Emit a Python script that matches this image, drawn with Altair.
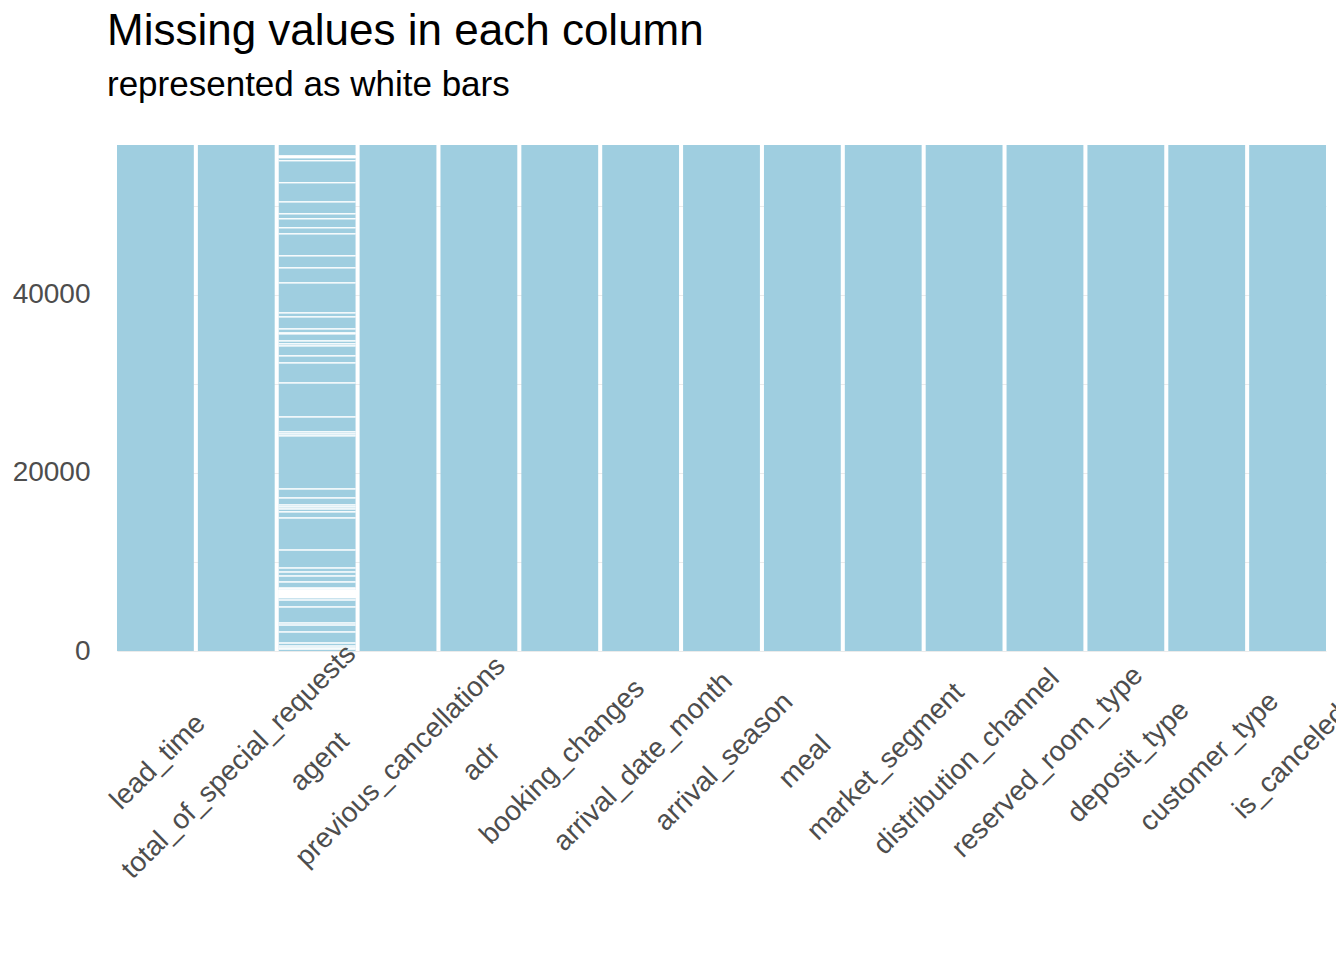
import altair as alt
import pandas as pd

columns = ["lead_time", "total_of_special_requests", "agent", "previous_cancellations", "adr",
           "booking_changes", "arrival_date_month", "arrival_season", "meal", "market_segment",
           "distribution_channel", "reserved_room_type", "deposit_type", "customer_type", "is_canceled"]
n_rows = 56850

missing_start = [55400, 55080, 52610, 50460, 49120, 48560, 47550, 46870, 44400, 43050, 41360,
                 37990, 37540, 36190, 35740, 35630, 34840, 34510, 34280, 33160, 32370, 30120,
                 26300, 24620, 24390, 24170, 18210, 17200, 16410, 16190, 15960, 15630, 14950,
                 11350, 9330, 8880, 8430, 7760, 7080, 6970, 5960, 5730, 4950, 3150, 2920, 2140,
                 900, 560, 340, 220]
missing_len = [250, 1, 1, 1, 1, 1, 1, 1, 1, 1, 1,
               1, 1, 1, 1, 1, 1, 1, 1, 1, 1, 1,
               1, 1, 1, 1, 1, 1, 1, 1, 1, 1, 1,
               1, 1, 1, 1, 1, 1, 1, 900, 1, 1, 1, 1, 1,
               1, 1, 1, 1]

cols_df = pd.DataFrame({"col": columns, "y0": 0, "y1": n_rows})
miss_df = pd.DataFrame({"col": "agent", "s": missing_start,
                        "e": [a + b for a, b in zip(missing_start, missing_len)]})

xs = alt.X("col:N", sort=columns, scale=alt.Scale(paddingInner=0.05, paddingOuter=0), axis=None)
ys = alt.Scale(domain=[0, n_rows], nice=False, zero=True)

bars = alt.Chart(cols_df).mark_rect(color="#9FCEE0").encode(
    x=xs,
    y=alt.Y("y0:Q", scale=ys, title=None,
            axis=alt.Axis(values=[0, 10000, 20000, 30000, 40000, 50000],
                          labelExpr="datum.value % 20000 == 0 ? datum.label : ''",
                          format="d", grid=True, gridColor="#EBEBEB", domain=False, ticks=False,
                          labelFontSize=28, labelColor="#4D4D4D", labelFont="Liberation Sans",
                          labelPadding=27)),
    y2="y1:Q",
)
miss = alt.Chart(miss_df).mark_rect(color="white", stroke="white", strokeWidth=1).encode(
    x=xs, y=alt.Y("s:Q", scale=ys), y2="e:Q")
labels = alt.Chart(cols_df).mark_text(angle=315, align="center", baseline="middle", fontSize=28,
                                      color="#4D4D4D", font="Liberation Sans", dx=4).encode(
    x=xs, y=alt.value(620), text="col:N")

chart = alt.layer(bars, miss, labels).properties(
    width=1209, height=506,
    title=alt.TitleParams("Missing values in each column", subtitle="represented as white bars",
                          anchor="start", frame="group", dx=-10, offset=42, fontSize=44,
                          subtitleFontSize=35, font="Liberation Sans", subtitleFont="Liberation Sans",
                          fontWeight="normal", color="black", subtitleColor="black", subtitlePadding=14),
    autosize=alt.AutoSizeParams(type="none"),
    padding={"left": 109, "top": 137, "right": 10, "bottom": 300},
).configure_view(stroke=None)

chart.save("out.html", embed_options={"renderer": "svg", "actions": False})
